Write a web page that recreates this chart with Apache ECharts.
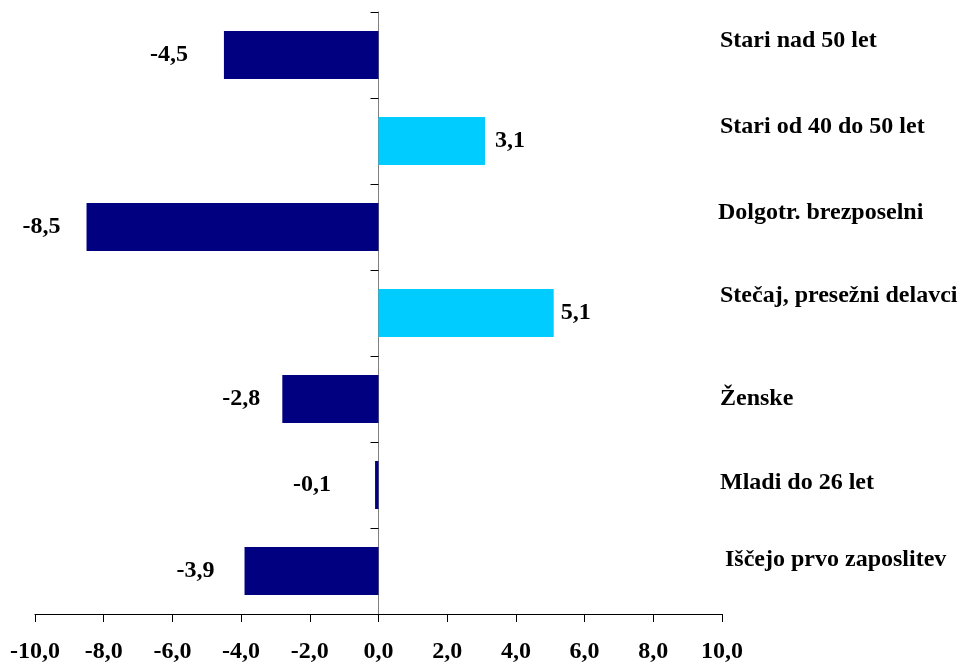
<!DOCTYPE html>
<html>
<head>
<meta charset="utf-8">
<script src="https://cdn.jsdelivr.net/npm/echarts@6/dist/echarts.min.js"></script>
<style>
html,body{margin:0;padding:0;background:#fff;}
#c{width:959px;height:663px;}
</style>
</head>
<body>
<div id="c"></div>
<script>
// Data
var categories = ['Stari nad 50 let','Stari od 40 do 50 let','Dolgotr. brezposelni','Stečaj, presežni delavci','Ženske','Mladi do 26 let','Iščejo prvo zaposlitev'];
var values = [-4.5, 3.1, -8.5, 5.1, -2.8, -0.1, -3.9];
var xTicks = [-10, -8, -6, -4, -2, 0, 2, 4, 6, 8, 10];

// Styling (label placement tweaks, not data)
var labelGap = [36, 10, 26, 7, 22, 44, 30];
var catShiftUp = [14, 14, 14, 17, 0, 2, 11];
var catPadLeft = [2, 2, 0, 2, 2, 2, 7];

var FONT = "'Liberation Serif','Times New Roman',serif";
function fmt(v){ return v.toFixed(1).replace('.', ','); }

var chart = echarts.init(document.getElementById('c'), null, {renderer:'canvas'});
var rich = {};
categories.forEach(function(c, i){
  rich['s' + i] = {
    fontFamily: FONT, fontWeight: 'bold', fontSize: 24, color: '#000000',
    padding: [0, 0, 2*catShiftUp[i], catPadLeft[i]]
  };
});
var seriesData = values.map(function(v, i){
  return {
    value: v,
    itemStyle: { color: v < 0 ? '#000080' : '#00CCFF' },
    label: { position: v < 0 ? 'left' : 'right', distance: labelGap[i] }
  };
});

chart.setOption({
  animation: false,
  backgroundColor: '#ffffff',
  grid: { left: 35, right: 237, top: 12, bottom: 49, containLabel: false, outerBoundsMode: 'none' },
  xAxis: {
    type: 'value',
    min: xTicks[0], max: xTicks[xTicks.length-1], interval: 2,
    splitLine: { show: false },
    axisLine: { show: true, onZero: false, lineStyle: { color: '#000000', width: 1 } },
    axisTick: { show: true, length: 8, lineStyle: { color: '#000000' } },
    axisLabel: {
      margin: 26,
      fontFamily: FONT, fontWeight: 'bold', fontSize: 24, color: '#000000',
      formatter: function(v){ return fmt(v); }
    }
  },
  yAxis: [{
    type: 'category',
    data: categories,
    inverse: true,
    axisLine: { show: true, onZero: true, lineStyle: { color: '#808080', width: 1 } },
    axisTick: { show: true, length: 8, lineStyle: { color: '#000000' } },
    axisLabel: { show: false },
    splitLine: { show: false }
  }, {
    type: 'category',
    data: categories,
    inverse: true,
    position: 'right',
    axisLine: { show: false, onZero: false },
    axisTick: { show: false },
    axisLabel: {
      show: true, align: 'left', margin: -4,
      fontFamily: FONT, fontWeight: 'bold', fontSize: 24, color: '#000000',
      formatter: function(v, i){ return '{s' + i + '|' + v + '}'; },
      rich: rich
    },
    splitLine: { show: false }
  }],
  series: [{
    type: 'bar',
    yAxisIndex: 0,
    data: seriesData,
    barWidth: 48,
    label: {
      show: true,
      fontFamily: FONT, fontWeight: 'bold', fontSize: 24, color: '#000000',
      formatter: function(p){ return fmt(p.value); }
    }
  }]
});
</script>
</body>
</html>
